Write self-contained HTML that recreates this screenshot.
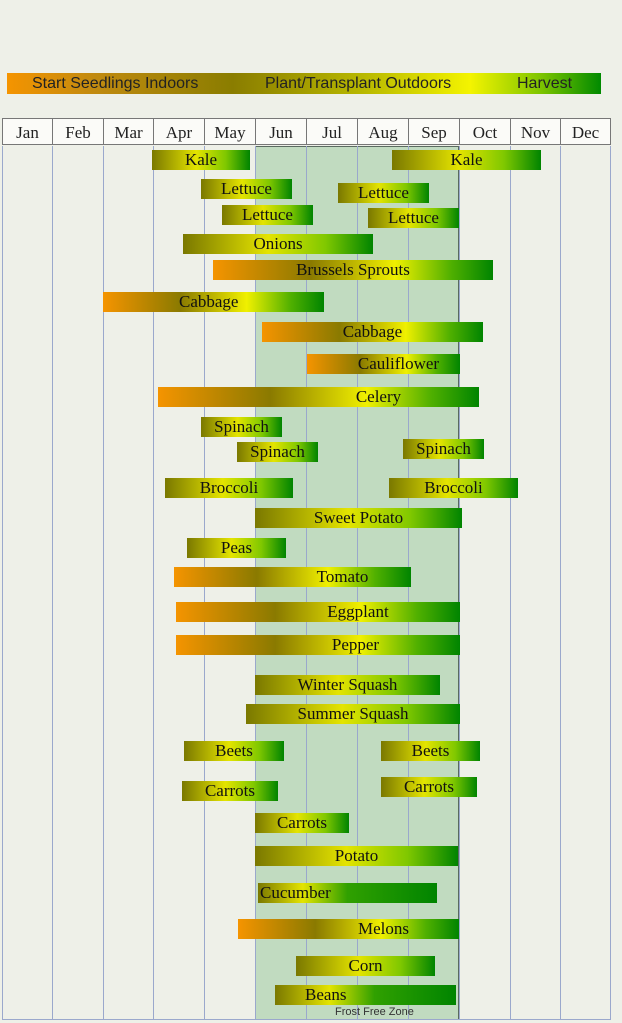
<!DOCTYPE html><html><head><style>
body{margin:0;width:622px;height:1023px;background:#eef0e8;position:relative;overflow:hidden;font-family:"Liberation Serif",serif}
.a{position:absolute}
.leg{left:7px;top:73px;width:594px;height:21px;background:linear-gradient(90deg,#f59400 0%,#c08a10 15%,#8a7d00 38%,#b8b800 60%,#f4f400 78%,#7cc400 90%,#008a00 100%);font-family:"Liberation Sans",sans-serif;font-size:16px;line-height:21px;color:#222}
.hd{top:118px;height:27px;border:1px solid #777;background:#fbfbf8;font-size:17px;line-height:27px;text-align:center;color:#222;box-sizing:border-box}
.vl{top:146px;width:1px;height:874px;background:#9aa8cc}
.b{height:20px;font-size:17px;line-height:20px;text-align:center;color:#111;background:linear-gradient(90deg,#7a7800 0%,#e4e400 45%,#80c800 75%,#008400 100%)}
.o{background:linear-gradient(90deg,#f59400 0%,#8a7a00 35%,#f0f000 65%,#50b000 85%,#008400 100%)}
</style></head><body>
<div class="a leg"><span class="a" style="left:25px">Start Seedlings Indoors</span><span class="a" style="left:258px">Plant/Transplant Outdoors</span><span class="a" style="left:510px">Harvest</span></div>
<div class="a" style="left:255px;top:146px;width:204px;height:874px;background:rgba(120,185,125,0.38);border:1px solid #5a6a60;box-sizing:border-box"></div>
<div class="a hd" style="left:2px;width:51px">Jan</div><div class="a hd" style="left:52px;width:52px">Feb</div><div class="a hd" style="left:103px;width:51px">Mar</div><div class="a hd" style="left:153px;width:52px">Apr</div><div class="a hd" style="left:204px;width:52px">May</div><div class="a hd" style="left:255px;width:52px">Jun</div><div class="a hd" style="left:306px;width:52px">Jul</div><div class="a hd" style="left:357px;width:52px">Aug</div><div class="a hd" style="left:408px;width:52px">Sep</div><div class="a hd" style="left:459px;width:52px">Oct</div><div class="a hd" style="left:510px;width:51px">Nov</div><div class="a hd" style="left:560px;width:51px">Dec</div>
<div class="a vl" style="left:2px"></div><div class="a vl" style="left:52px"></div><div class="a vl" style="left:103px"></div><div class="a vl" style="left:153px"></div><div class="a vl" style="left:204px"></div><div class="a vl" style="left:255px"></div><div class="a vl" style="left:306px"></div><div class="a vl" style="left:357px"></div><div class="a vl" style="left:408px"></div><div class="a vl" style="left:459px"></div><div class="a vl" style="left:510px"></div><div class="a vl" style="left:560px"></div><div class="a vl" style="left:610px"></div>
<div class="a" style="left:2px;top:1019px;width:609px;height:1px;background:#9aa8cc"></div>
<div class="a b" style="left:152px;width:98px;top:150px">Kale</div>
<div class="a b" style="left:392px;width:149px;top:150px">Kale</div>
<div class="a b" style="left:201px;width:91px;top:179px">Lettuce</div>
<div class="a b" style="left:338px;width:91px;top:183px">Lettuce</div>
<div class="a b" style="left:222px;width:91px;top:205px">Lettuce</div>
<div class="a b" style="left:368px;width:91px;top:208px">Lettuce</div>
<div class="a b" style="left:183px;width:190px;top:234px">Onions</div>
<div class="a b o" style="left:213px;width:280px;top:260px">Brussels Sprouts</div>
<div class="a b o" style="left:103px;width:221px;top:292px;text-align:left;padding-left:76px;box-sizing:border-box">Cabbage</div>
<div class="a b o" style="left:262px;width:221px;top:322px">Cabbage</div>
<div class="a b o" style="left:307px;width:153px;top:354px;padding-left:30px;box-sizing:border-box">Cauliflower</div>
<div class="a b o" style="left:158px;width:321px;top:387px;padding-left:120px;box-sizing:border-box">Celery</div>
<div class="a b" style="left:201px;width:81px;top:417px">Spinach</div>
<div class="a b" style="left:237px;width:81px;top:442px">Spinach</div>
<div class="a b" style="left:403px;width:81px;top:439px">Spinach</div>
<div class="a b" style="left:165px;width:128px;top:478px">Broccoli</div>
<div class="a b" style="left:389px;width:129px;top:478px">Broccoli</div>
<div class="a b" style="left:255px;width:207px;top:508px">Sweet Potato</div>
<div class="a b" style="left:187px;width:99px;top:538px">Peas</div>
<div class="a b o" style="left:174px;width:237px;top:567px;padding-left:100px;box-sizing:border-box">Tomato</div>
<div class="a b o" style="left:176px;width:284px;top:602px;padding-left:80px;box-sizing:border-box">Eggplant</div>
<div class="a b o" style="left:176px;width:284px;top:635px;padding-left:75px;box-sizing:border-box">Pepper</div>
<div class="a b" style="left:255px;width:185px;top:675px">Winter Squash</div>
<div class="a b" style="left:246px;width:214px;top:704px">Summer Squash</div>
<div class="a b" style="left:184px;width:100px;top:741px">Beets</div>
<div class="a b" style="left:381px;width:99px;top:741px">Beets</div>
<div class="a b" style="left:182px;width:96px;top:781px">Carrots</div>
<div class="a b" style="left:381px;width:96px;top:777px">Carrots</div>
<div class="a b" style="left:255px;width:94px;top:813px">Carrots</div>
<div class="a b" style="left:255px;width:203px;top:846px">Potato</div>
<div class="a b" style="left:258px;width:179px;top:883px;text-align:left;padding-left:2px;box-sizing:border-box;background:linear-gradient(90deg,#7a7800 0%,#e4e400 25%,#30a000 50%,#008400 100%)">Cucumber</div>
<div class="a b o" style="left:238px;width:221px;top:919px;padding-left:70px;box-sizing:border-box">Melons</div>
<div class="a b" style="left:296px;width:139px;top:956px">Corn</div>
<div class="a b" style="left:275px;width:181px;top:985px;text-align:left;padding-left:30px;box-sizing:border-box;background:linear-gradient(90deg,#7a7800 0%,#e4e400 30%,#30a000 55%,#008400 100%)">Beans</div>
<div class="a" style="left:335px;top:1006px;font-family:'Liberation Sans',sans-serif;font-size:11px;color:#333">Frost Free Zone</div>
</body></html>
